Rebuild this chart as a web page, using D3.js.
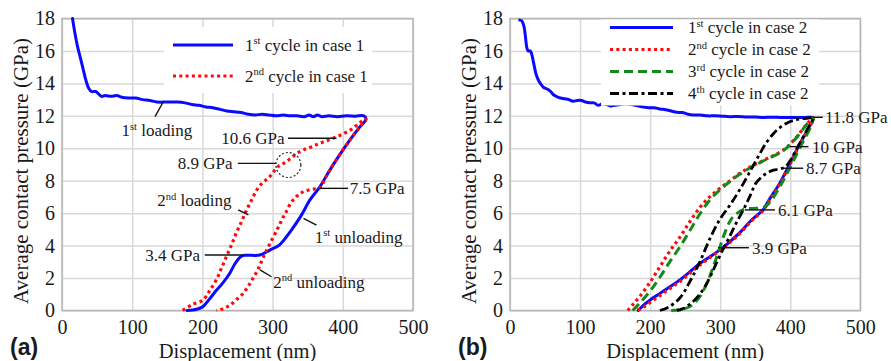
<!DOCTYPE html>
<html>
<head>
<meta charset="utf-8">
<script src="https://cdn.jsdelivr.net/npm/d3@7"></script>
<style>
  body { margin: 0; background: #fff; }
  svg text { font-family: "Liberation Serif", "Times New Roman", serif; fill: #1a1a1a; }
</style>
</head>
<body>
<svg id="chart" width="891" height="361"></svg>
<script>
// ---- data (displacement nm, pressure GPa) ----
const xTicks = [0, 100, 200, 300, 400, 500];
const yTicks = [0, 2, 4, 6, 8, 10, 12, 14, 16, 18];

// case 1, 1st cycle: loading then unloading
const case1Cycle1 = [[15,18],[18,17.2],[22,16.3],[26,15.6],[30,14.9],[34,14.2],[38,13.7],[42,13.5],[48,13.5],[52,13.35],[56,13.2],
  [62,13.25],[70,13.2],[78,13.25],[85,13.15],[95,13.1],[105,13.1],[115,13.0],[125,12.95],[135,12.85],[150,12.85],[165,12.85],
  [175,12.8],[185,12.7],[195,12.65],[205,12.55],[215,12.5],[225,12.4],[235,12.3],[245,12.25],[255,12.2],[265,12.1],[275,12.05],
  [285,12.1],[295,12.05],[305,12.0],[315,12.05],[325,12.0],[335,12.0],[345,11.95],[352,12.05],[358,11.95],[364,12.05],[370,11.95],
  [380,12.0],[392,11.95],[405,12.0],[418,11.98],[430,12.0],[433,11.8],
  [424,11.3],[410,10.5],[391,9.3],[378,8.4],[367,7.6],[353,6.8],[340,5.8],[325,4.85],[310,4.05],[296,3.72],[282,3.42],[270,3.4],
  [260,3.4],[254,3.3],[246,2.85],[239,2.3],[230,1.75],[220,1.25],[210,0.7],[201,0.25],[192,0.08],[178,0]];

// case 1, 2nd cycle: loading then unloading
const case1Cycle2 = [[172,0],[185,0.35],[201,0.65],[210,1.2],[220,1.9],[227,2.6],[234,3.3],[241,4.0],[248,4.75],[256,5.5],[263,6.2],
  [270,6.8],[277,7.4],[285,7.85],[292,8.1],[298,8.35],[304,8.7],[310,8.95],[317,9.1],[325,9.35],[335,9.7],[344,9.9],[356,10.1],
  [367,10.3],[379,10.5],[391,10.7],[401,10.9],[410,11.1],[418,11.35],[425,11.6],[433,11.8],
  [424,11.3],[410,10.5],[391,9.3],[378,8.4],[367,7.55],[360,7.5],[353,7.45],[345,7.35],[339,7.2],[332,6.95],[325,6.55],
  [319,6.05],[315,5.75],[310,5.3],[306,4.95],[296,4.1],[287,3.3],[280,2.6],[273,2.05],[266,1.55],[258,1.05],[248,0.65],
  [239,0.32],[230,0.12],[220,0]];

// case 2, cycles 1-4
const case2Cycle1 = [[14,17.9],[17,17.85],[20,17.5],[22,16.9],[24,16.2],[26,16.0],[29,16.0],[31,15.8],[34,15.2],[37,14.6],[40,14.25],
  [44,13.95],[48,13.75],[53,13.65],[58,13.5],[62,13.3],[66,13.2],[72,13.1],[78,13.05],[84,13.0],[90,12.9],[96,12.95],[102,12.95],
  [108,12.85],[114,12.8],[120,12.8],[126,12.65],[132,12.75],[138,12.7],[144,12.6],[150,12.65],[158,12.7],[166,12.75],[174,12.7],
  [182,12.62],[190,12.55],[198,12.5],[206,12.5],[214,12.42],[222,12.38],[230,12.3],[238,12.22],[246,12.2],[254,12.1],[262,12.05],
  [272,12.05],[282,12.0],[292,12.0],[302,11.98],[314,11.95],[326,11.96],[338,11.93],[350,11.93],[362,11.9],[374,11.92],
  [386,11.9],[398,11.9],[410,11.9],[422,11.9],[433,11.88],
  [428,11.4],[414,10.3],[400,9.1],[385,7.85],[371,6.9],[361,6.2],[352,5.85],[343,5.5],[328,4.8],[314,4.25],[300,3.75],
  [285,3.3],[271,2.9],[257,2.4],[243,1.9],[228,1.45],[214,1.05],[200,0.65],[190,0.3],[183,0]];

const case2Cycle2 = [[168,0],[176,0.4],[185,0.85],[200,1.75],[214,2.7],[228,3.65],[243,4.55],[257,5.5],[271,6.35],[285,7.0],
  [300,7.55],[314,8.0],[328,8.45],[343,8.85],[357,9.15],[371,9.45],[385,9.75],[395,10.05],[404,10.45],[412,10.85],[420,11.3],
  [427,11.65],[433,11.88],
  [428,11.35],[414,10.25],[400,9.05],[385,7.8],[371,6.85],[361,6.15],[352,5.8],[343,5.45],[328,4.75],[314,4.2],[300,3.7],
  [285,3.25],[271,2.8],[257,2.3],[243,1.8],[228,1.35],[214,0.92],[200,0.5],[188,0.15],[180,0]];

const case2Cycle3 = [[175,0],[185,0.45],[200,1.2],[214,2.05],[228,3.0],[243,3.95],[257,4.95],[271,5.95],[285,6.8],[300,7.45],
  [314,7.95],[328,8.4],[343,8.8],[357,9.12],[371,9.42],[385,9.72],[395,10.02],[404,10.42],[412,10.82],[420,11.28],[427,11.65],
  [433,11.88],
  [430,11.4],[417,10.3],[403,9.1],[388,7.85],[374,6.85],[364,6.4],[352,6.3],[340,6.28],[333,6.22],[326,6.05],[320,5.85],
  [314,5.5],[305,4.6],[295,3.3],[285,2.1],[278,1.4],[271,0.85],[264,0.5],[257,0.25],[245,0.07],[230,0]];

const case2Cycle4 = [[214,0],[228,0.25],[243,0.8],[257,1.8],[271,3.0],[285,4.4],[300,5.65],[314,6.5],[328,7.45],[343,8.6],
  [357,9.7],[366,10.35],[376,10.9],[386,11.3],[395,11.55],[405,11.72],[414,11.8],[424,11.85],[433,11.88],
  [428,11.45],[414,10.35],[400,9.25],[393,8.85],[385,8.72],[376,8.65],[368,8.5],[361,8.3],[351,7.85],[343,7.1],[333,6.2],
  [323,5.4],[314,4.6],[305,3.85],[296,3.05],[287,2.2],[278,1.45],[268,0.85],[257,0.4],[246,0.1],[238,0]];

// text labels with pointer lines, in data units
const notesA = [
  { parts: ["1", "st", " loading"], at: [135, 11.1], anchor: "middle", line: [[132.5, 11.95], [144.3, 12.87]] },
  { parts: ["10.6 GPa"], at: [317, 10.62], anchor: "end", line: [[322, 10.62], [391, 10.62]] },
  { parts: ["8.9 GPa"], at: [243, 9.07], anchor: "end", line: [[250.5, 9.07], [305, 9.07]] },
  { parts: ["7.5 GPa"], at: [410, 7.53], anchor: "start", line: [[367, 7.53], [407.5, 7.53]] },
  { parts: ["1", "st", " unloading"], at: [360, 4.55], anchor: "start", line: [[344, 5.68], [362.5, 5.27]] },
  { parts: ["2", "nd", " loading"], at: [241.5, 6.81], anchor: "end", line: [[251, 6.2], [265.5, 5.89]] },
  { parts: ["3.4 GPa"], at: [196.5, 3.42], anchor: "end", line: [[203.5, 3.42], [258, 3.42]] },
  { parts: ["2", "nd", " unloading"], at: [301, 1.78], anchor: "start", line: [[282, 2.5], [298.5, 2.08]] }
];
const circleA = [322.4, 8.97];

const notesB = [
  { parts: ["11.8 GPa"], at: [449.5, 11.91], anchor: "start", line: [[432.5, 11.91], [446.5, 11.91]] },
  { parts: ["10 GPa"], at: [431, 10.1], anchor: "start", line: [[399.7, 10.1], [426, 10.1]] },
  { parts: ["8.7 GPa"], at: [422.5, 8.77], anchor: "start", line: [[390, 8.77], [418.5, 8.77]] },
  { parts: ["6.1 GPa"], at: [382.5, 6.2], anchor: "start", line: [[335.4, 6.2], [378.2, 6.2]] },
  { parts: ["3.9 GPa"], at: [345.5, 3.87], anchor: "start", line: [[297, 3.87], [341, 3.87]] }
];

const styles = {
  blue:  { stroke: "#0a0aff", dash: null, width: 3, cap: "round" },
  red:   { stroke: "#ff0a0a", dash: "3,3.3", width: 3.2, cap: "butt" },
  green: { stroke: "#158a1c", dash: "9,5", width: 3, cap: "butt" },
  black: { stroke: "#000000", dash: "9,3.5,3,3.5", width: 2.8, cap: "butt" }
};

const svg = d3.select("#chart");
const plotTop = 18.5, plotBottom = 310.5;

function addText(sel, parts, size) {
  parts.forEach((p, i) => {
    const t = sel.append("tspan").text(p);
    if (i % 2 === 1) t.attr("font-size", size * 0.62).attr("dy", -size * 0.38);
    else if (i > 0) t.attr("dy", size * 0.38);
  });
}

function drawPanel(p) {
  const x = d3.scaleLinear().domain([0, 500]).range([p.left, p.right]);
  const y = d3.scaleLinear().domain([0, 18]).range([plotBottom, plotTop]);
  const g = svg.append("g");

  // grid
  g.append("g").attr("transform", `translate(0,${plotBottom})`)
    .call(d3.axisBottom(x).tickValues(xTicks).tickSize(-(plotBottom - plotTop)).tickFormat(""))
    .call(s => s.select(".domain").remove())
    .selectAll("line").attr("stroke", "#d9d9d9").attr("stroke-width", 1.5);
  g.append("g").attr("transform", `translate(${p.left},0)`)
    .call(d3.axisLeft(y).tickValues(yTicks).tickSize(-(p.right - p.left)).tickFormat(""))
    .call(s => s.select(".domain").remove())
    .selectAll("line").attr("stroke", "#d9d9d9").attr("stroke-width", 1.5);

  g.append("rect").attr("x", p.left).attr("y", plotTop)
    .attr("width", p.right - p.left).attr("height", plotBottom - plotTop)
    .attr("fill", "none").attr("stroke", "#b5b5b5").attr("stroke-width", 1.5);

  // tick labels
  g.append("g").attr("transform", `translate(0,${plotBottom})`)
    .call(d3.axisBottom(x).tickValues(xTicks).tickSize(0).tickPadding(9))
    .call(s => s.select(".domain").remove())
    .attr("font-size", 20).attr("font-family", null).attr("color", "#1a1a1a");
  g.append("g").attr("transform", `translate(${p.left},0)`)
    .call(d3.axisLeft(y).tickValues(yTicks).tickSize(0).tickPadding(7))
    .call(s => s.select(".domain").remove())
    .attr("font-size", 20).attr("font-family", null).attr("color", "#1a1a1a");

  // axis titles
  g.append("text").attr("x", (p.left + p.right) / 2).attr("y", 358)
    .attr("text-anchor", "middle").attr("font-size", 20.5).text("Displacement (nm)");
  g.append("text").attr("transform", `translate(${p.left - 34},171) rotate(-90)`)
    .attr("text-anchor", "middle").attr("font-size", 21).text("Average contact pressure (GPa)");
  g.append("text").attr("x", p.left - 52).attr("y", 355)
    .style("font-family", "'Liberation Sans', Arial, sans-serif").attr("font-weight", "bold")
    .attr("font-size", 23).text(p.tag);

  // curves
  const line = d3.line().x(d => x(d[0])).y(d => y(d[1])).curve(d3.curveCatmullRom.alpha(0.5));
  p.series.forEach(s => {
    const st = styles[s.style];
    g.append("path").datum(s.data).attr("d", line)
      .attr("fill", "none").attr("stroke", st.stroke).attr("stroke-width", st.width)
      .attr("stroke-dasharray", st.dash).attr("stroke-linecap", st.cap).attr("stroke-linejoin", "round");
  });

  // annotations
  p.notes.forEach(n => {
    g.append("line").attr("x1", x(n.line[0][0])).attr("y1", y(n.line[0][1]))
      .attr("x2", x(n.line[1][0])).attr("y2", y(n.line[1][1]))
      .attr("stroke", "#111").attr("stroke-width", 1.4);
    const t = g.append("text").attr("x", x(n.at[0])).attr("y", y(n.at[1])).attr("dy", "0.35em")
      .attr("text-anchor", n.anchor).attr("font-size", 17);
    addText(t, n.parts, 17);
  });
  if (p.circle) {
    g.append("circle").attr("cx", x(p.circle[0])).attr("cy", y(p.circle[1])).attr("r", 12.5)
      .attr("fill", "none").attr("stroke", "#222").attr("stroke-width", 1.2).attr("stroke-dasharray", "2,2");
  }

  // legend
  const L = p.legend;
  g.append("rect").attr("x", L.box[0]).attr("y", L.box[1]).attr("width", L.box[2]).attr("height", L.box[3]).attr("fill", "#fff");
  L.items.forEach((it, i) => {
    const st = styles[it.style];
    const ly = L.y0 + i * L.step;
    g.append("line").attr("x1", L.x0).attr("x2", L.x1).attr("y1", ly).attr("y2", ly)
      .attr("stroke", st.stroke).attr("stroke-width", st.width).attr("stroke-dasharray", st.dash);
    const t = g.append("text").attr("x", L.tx).attr("y", ly).attr("dy", "0.35em").attr("font-size", 17);
    addText(t, it.parts, 17);
  });
}

drawPanel({
  tag: "(a)", left: 62, right: 413,
  series: [{ data: case1Cycle1, style: "blue" }, { data: case1Cycle2, style: "red" }],
  notes: notesA, circle: circleA,
  legend: {
    box: [164, 27, 208, 66], x0: 173, x1: 233, tx: 245, y0: 45, step: 31,
    items: [{ parts: ["1", "st", " cycle in case 1"], style: "blue" }, { parts: ["2", "nd", " cycle in case 1"], style: "red" }]
  }
});

drawPanel({
  tag: "(b)", left: 510, right: 860.3,
  series: [{ data: case2Cycle1, style: "blue" }, { data: case2Cycle2, style: "red" },
           { data: case2Cycle3, style: "green" }, { data: case2Cycle4, style: "black" }],
  notes: notesB, circle: null,
  legend: {
    box: [601, 19.5, 218, 86], x0: 610, x1: 673, tx: 688, y0: 27.5, step: 22,
    items: [{ parts: ["1", "st", " cycle in case 2"], style: "blue" }, { parts: ["2", "nd", " cycle in case 2"], style: "red" },
            { parts: ["3", "rd", " cycle in case 2"], style: "green" }, { parts: ["4", "th", " cycle in case 2"], style: "black" }]
  }
});
</script>
</body>
</html>
